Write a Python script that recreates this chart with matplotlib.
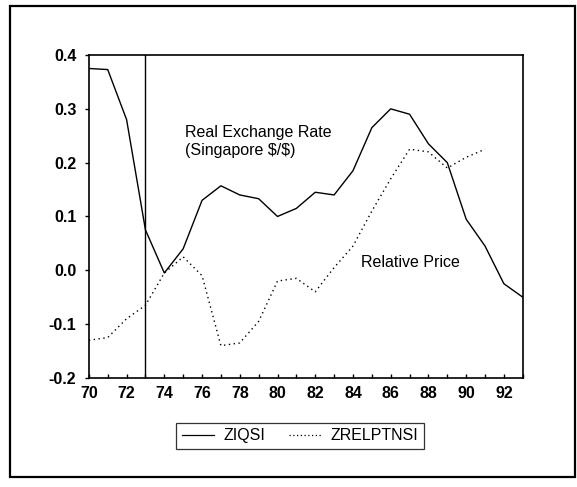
import matplotlib
matplotlib.use("Agg")
import matplotlib.pyplot as plt
from matplotlib.patches import Rectangle
from matplotlib.lines import Line2D

plt.rcParams['font.family'] = ['Liberation Sans', 'DejaVu Sans']

years = list(range(70, 94))
ziqsi = [0.375, 0.373, 0.28, 0.075, -0.005, 0.04, 0.13, 0.157, 0.14, 0.133,
         0.10, 0.115, 0.145, 0.14, 0.185, 0.265, 0.30, 0.29, 0.235, 0.20,
         0.095, 0.045, -0.025, -0.05]
rel_years = list(range(70, 92))
zrelptnsi = [-0.13, -0.125, -0.09, -0.065, -0.005, 0.025, -0.01, -0.14, -0.135, -0.095,
             -0.02, -0.015, -0.04, 0.005, 0.045, 0.11, 0.17, 0.225, 0.22, 0.19,
             0.21, 0.225]
break_year = 73
xtick_vals = list(range(70, 93, 2))
ytick_vals = [-0.2, -0.1, 0.0, 0.1, 0.2, 0.3, 0.4]

fig = plt.figure(figsize=(5.77, 4.87), dpi=100)
ax = fig.add_axes([0.154, 0.224, 0.752, 0.663])

ax.plot(years, ziqsi, color='black', lw=1.0)
ax.plot(rel_years, zrelptnsi, color='black', lw=1.0, ls=(0, (1, 2.5)))
ax.axvline(break_year, color='black', lw=1.0)

ax.set_xlim(70, 93)
ax.set_ylim(-0.2, 0.4)
ax.set_xticks(xtick_vals)
ax.set_xticks(years, minor=True)
ax.set_yticks(ytick_vals)
ax.set_yticklabels([f"{v:.1f}" for v in ytick_vals])
ax.tick_params(axis='x', which='both', direction='in', length=3, width=1, pad=6, labelsize=11.5)
ax.tick_params(axis='y', direction='out', length=3, width=1, pad=6, labelsize=11.5)
for lab in ax.get_xticklabels() + ax.get_yticklabels():
    lab.set_fontweight('bold')
for s in ax.spines.values():
    s.set_linewidth(1.2)

ax.text(75.1, 0.24, "Real Exchange Rate\n(Singapore \\$/\\$)", fontsize=11.5,
        linespacing=1.25, va='center', ha='left')
ax.text(84.4, 0.0, "Relative Price", fontsize=11.5, va='bottom', ha='left')

handles = [Line2D([], [], color='black', lw=0.9),
           Line2D([], [], color='black', lw=0.9, ls=(0, (1, 2)))]
leg = fig.legend(handles, ['ZIQSI', 'ZRELPTNSI'], loc='center',
                 bbox_to_anchor=(0.52, 0.105), ncol=2, fontsize=11.5,
                 frameon=True, fancybox=False, edgecolor='black',
                 handlelength=2.0, handletextpad=0.6, columnspacing=1.5,
                 borderpad=0.35)
leg.get_frame().set_linewidth(0.9)

# outer frame of the figure panel
fig.patches.append(Rectangle((10 / 577, 1 - 477 / 487), 565 / 577, 471 / 487,
                             transform=fig.transFigure, fill=False,
                             edgecolor='black', lw=1.6))

fig.savefig('out.png', dpi=100)
